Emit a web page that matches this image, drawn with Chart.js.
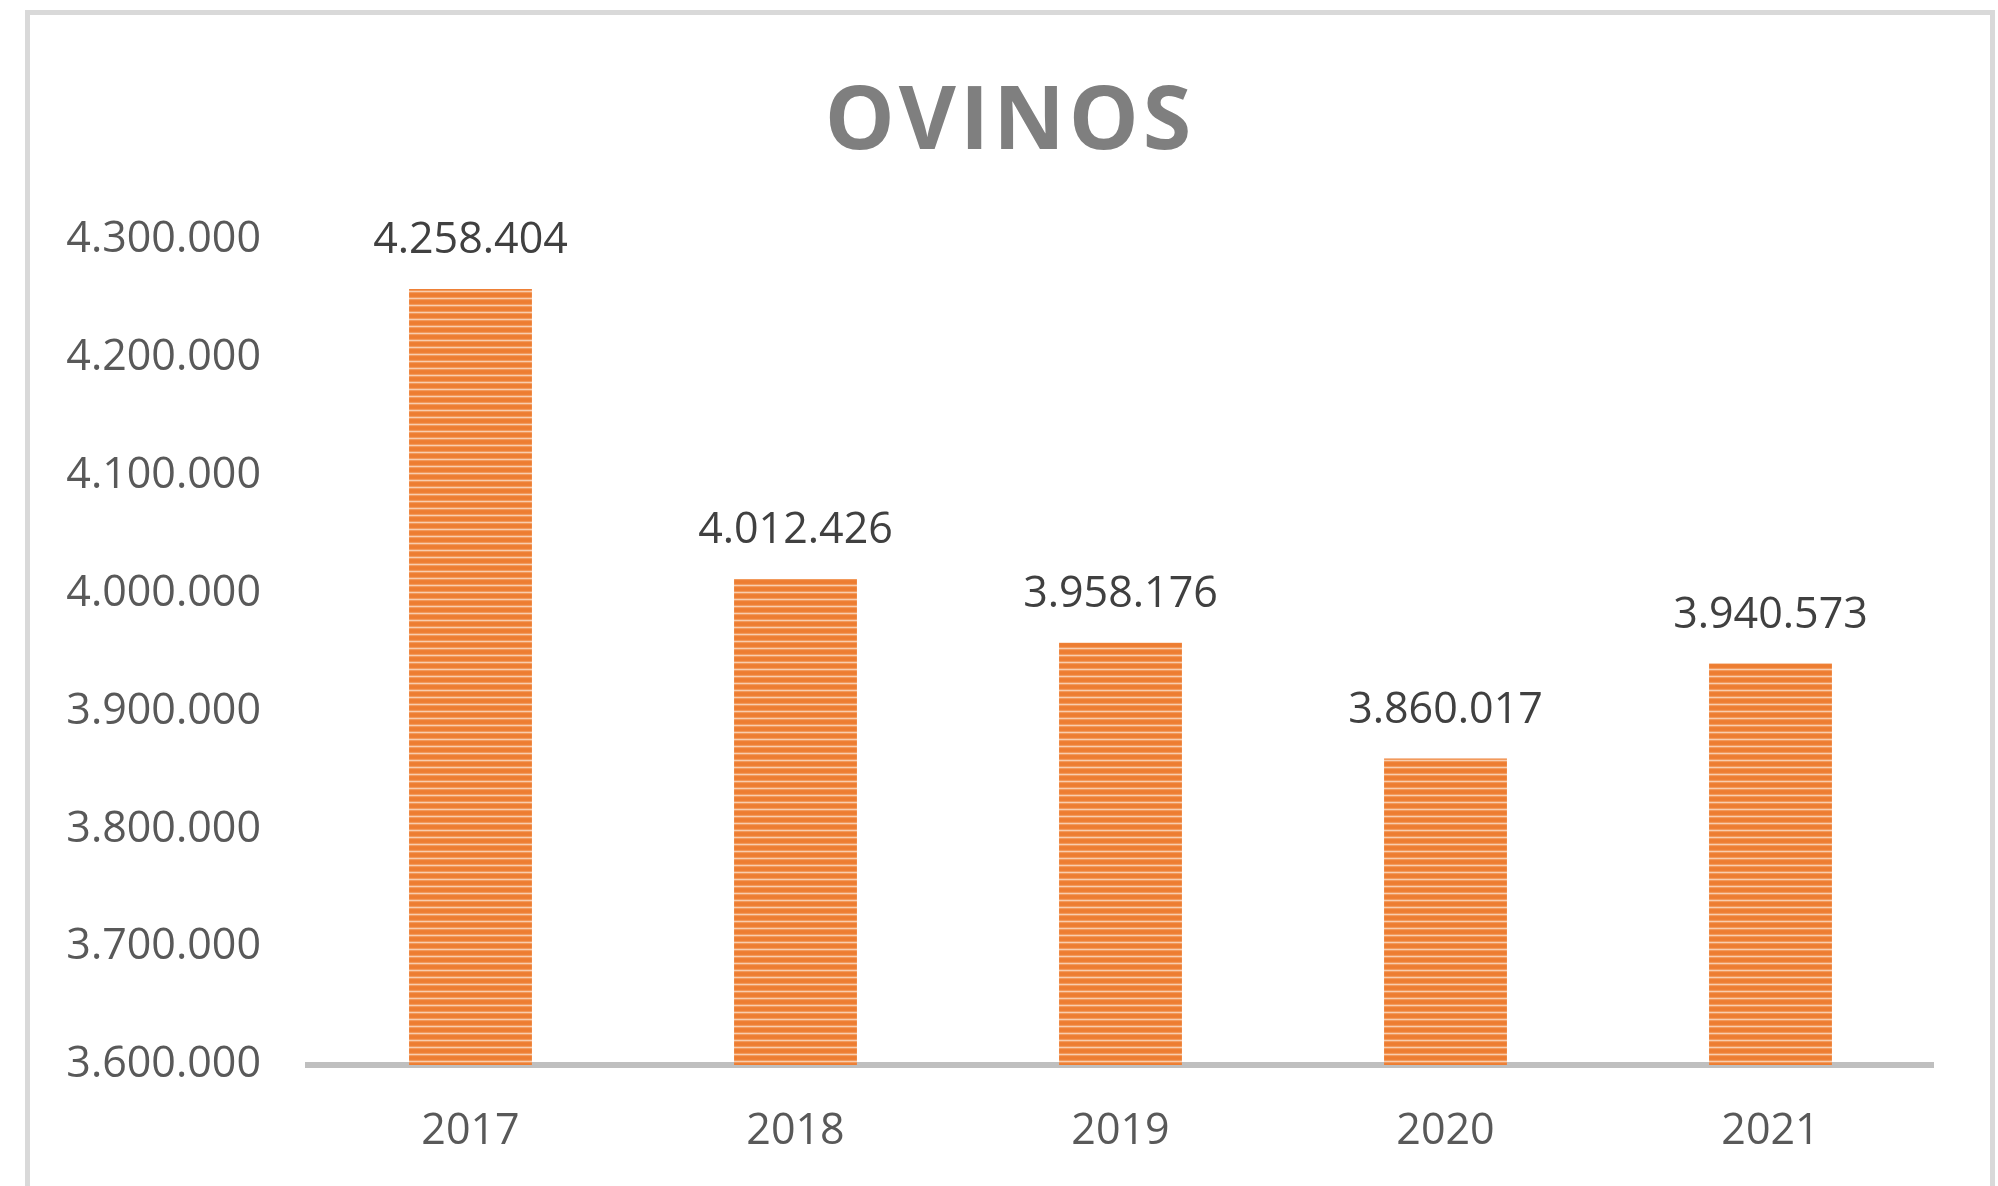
<!DOCTYPE html>
<html>
<head>
<meta charset="utf-8">
<title>Ovinos</title>
<script src="https://cdn.jsdelivr.net/npm/chart.js@4.4.0/dist/chart.umd.min.js"></script>
<style>
  html, body { margin: 0; padding: 0; background: #fff; overflow: hidden; }
  #frame {
    position: absolute; left: 25px; top: 10px; width: 1960px; height: 1300px;
    border: 5px solid #d9d9d9; border-bottom: none;
  }
  #wrap { position: absolute; left: 0; top: 0; width: 1998px; height: 1186px; }
</style>
</head>
<body>
<div id="frame"></div>
<div id="wrap"><canvas id="barChart1"></canvas></div>
<script>
'use strict';

const chartTitle = 'OVINOS';
const years = ['2017', '2018', '2019', '2020', '2021'];
const ovinos = [4258404, 4012426, 3958176, 3860017, 3940573];
const yMin = 3600000, yMax = 4300000, yStep = 100000;

// 4258404 -> "4.258.404"
let fmt = function(v){
  return String(Math.round(v)).replace(/\B(?=(\d{3})+(?!\d))/g, '.');
};

// horizontal stripe fill like the excel pattern
let makeStripes = function(){
  let c = document.createElement('canvas');
  c.width = 4; c.height = 7;
  let g = c.getContext('2d');
  let rows = ['#ED7D31', '#ED7D31', '#EE8036', '#F29A5C', '#F9CDAE', '#F29A5C', '#EE8036'];
  rows.forEach(function(col, i){ g.fillStyle = col; g.fillRect(0, i, 4, 1); });
  return g.createPattern(c, 'repeat');
};

// value labels above the bars
const valueLabels = {
  id: 'valueLabels',
  afterDatasetsDraw: function(chart){
    let ctx = chart.ctx;
    let meta = chart.getDatasetMeta(0);
    ctx.save();
    ctx.font = '43px "Open Sans"';
    ctx.fillStyle = '#404040';
    ctx.textAlign = 'center';
    ctx.textBaseline = 'middle';
    meta.data.forEach(function(bar, i){
      ctx.fillText(fmt(chart.data.datasets[0].data[i]), bar.x, bar.y - 48);
    });
    ctx.restore();
  }
};

// spaced out title
const spacedTitle = {
  id: 'spacedTitle',
  afterDraw: function(chart){
    let ctx = chart.ctx;
    let sp = 4;
    ctx.save();
    ctx.font = 'bold 88px "Open Sans"';
    ctx.fillStyle = '#7f7f7f';
    ctx.textAlign = 'center';
    ctx.textBaseline = 'alphabetic';
    ctx.letterSpacing = sp + 'px';
    ctx.fillText(chartTitle, 1008 + sp / 2, 149);
    ctx.restore();
  }
};

let ctx = document.getElementById('barChart1').getContext('2d');

let canvas1 = new Chart(ctx, {
  type: 'bar',
  data: {
    labels: years,
    datasets: [{
      label: chartTitle,
      data: ovinos,
      backgroundColor: makeStripes(),
      borderWidth: 0,
      categoryPercentage: 1,
      barPercentage: 0.378
    }]
  },
  options: {
    responsive: true,
    maintainAspectRatio: false,
    animation: false,
    layout: { padding: { top: 240, right: 65, bottom: 0, left: 0 } },
    plugins: {
      legend: { display: false },
      title: { display: false },
      tooltip: { enabled: false }
    },
    scales: {
      x: {
        grid: { display: false, drawTicks: false },
        border: { display: true, color: '#bfbfbf', width: 6 },
        ticks: { color: '#595959', font: { family: 'Open Sans', size: 43 }, padding: 41 },
        afterFit: function(s){ s.height = 121; }
      },
      y: {
        min: yMin,
        max: yMax,
        grid: { display: false, drawTicks: false },
        border: { display: false },
        ticks: {
          stepSize: yStep,
          color: '#595959',
          font: { family: 'Open Sans', size: 43 },
          padding: 47,
          callback: function(v){ return fmt(v); }
        },
        afterFit: function(s){ s.width = 308; }
      }
    }
  },
  plugins: [valueLabels, spacedTitle]
});
</script>
</body>
</html>
